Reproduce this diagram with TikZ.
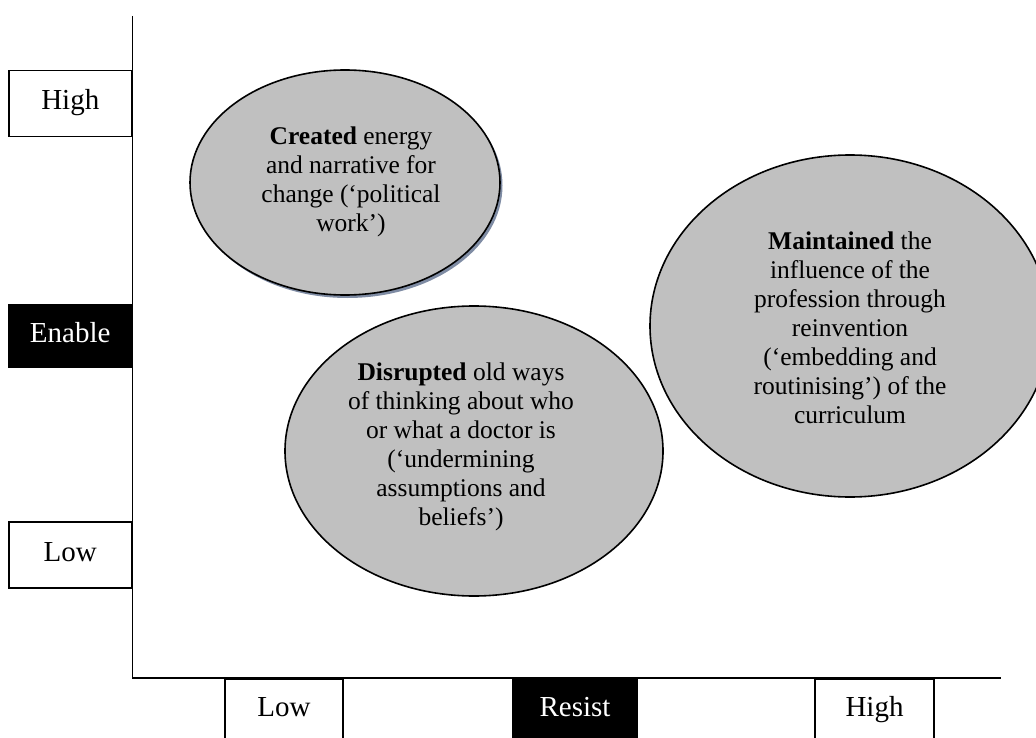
\documentclass[tikz,border=0pt]{standalone}
\usepackage{fontspec}
\setmainfont{Liberation Serif}
\usetikzlibrary{shapes.geometric,shadows}
\definecolor{bubblegray}{RGB}{192,192,192}
\definecolor{shadowblue}{RGB}{105,120,148}
\tikzset{axislabel/.style={
        draw,line width=1.5pt,fill=white,inner sep=0pt,
        minimum height=#1,text height=19pt,text depth=6pt,
        font=\fontsize{29}{34}\selectfont
    },
    axislabel/.default=66pt,
    darklabel/.style={axislabel=#1,fill=black,text=white},
    darklabel/.default=62pt,
    bubble/.style={ellipse,draw,line width=1.6pt,fill=bubblegray,inner sep=0pt},
    bubbletext/.style={align=center,inner sep=0pt,font=\fontsize{25.5}{29}\selectfont}
}

\begin{document}
\begin{tikzpicture}[x=1pt,y=-1pt]
           \useasboundingbox (0,0) rectangle (1036,738);
           \coordinate (ytop) at (132.5,16);
           \coordinate (origin) at (132.5,678);
           \coordinate (xend) at (1001,678);
           \node[axislabel,minimum width=123pt,anchor=east] (yhigh) at (origin|-0,103.5) {High};
           \node[darklabel,minimum width=123pt,anchor=east] (yenable) at (origin|-0,336) {Enable};
           \node[axislabel,minimum width=123pt,anchor=east] (ylow) at (origin|-0,555) {Low};
           \node[axislabel=62pt,minimum width=118pt,anchor=north] (xlow) at (284,678) {Low};
           \node[darklabel,minimum width=124pt,anchor=north] (xresist) at (575,678) {Resist};
           \node[axislabel=62pt,minimum width=119pt,anchor=north] (xhigh) at (874.5,678) {High};
           \draw[line width=1.6pt] (ytop) -- (origin) -- (xend);
           \node[bubble,minimum width=310pt,minimum height=225pt,
                 drop shadow={shadow xshift=2.5pt,shadow yshift=-3pt,fill=shadowblue,opacity=.85}]
                 (created) at (345,182.5) {};
           \node[bubbletext,xshift=6pt,yshift=1pt] (createdtext) at (created)
                 {\textbf{Created} energy\\and narrative for\\change (‘political\\work’)};
           \node[bubble,minimum width=378pt,minimum height=290pt] (disrupted) at (474,451) {};
           \node[bubbletext,xshift=-13pt,yshift=4pt] (disruptedtext) at (disrupted)
                 {\textbf{Disrupted} old ways\\of thinking about who\\or what a doctor is\\(‘undermining\\assumptions and\\beliefs’)};
           \node[bubble,minimum width=400pt,minimum height=342pt] (maintained) at (850,326) {};
           \node[bubbletext,yshift=-2pt] (maintainedtext) at (maintained)
                 {\textbf{Maintained} the\\influence of the\\profession through\\reinvention\\(‘embedding and\\routinising’) of the\\curriculum};
\end{tikzpicture}
\end{document}
